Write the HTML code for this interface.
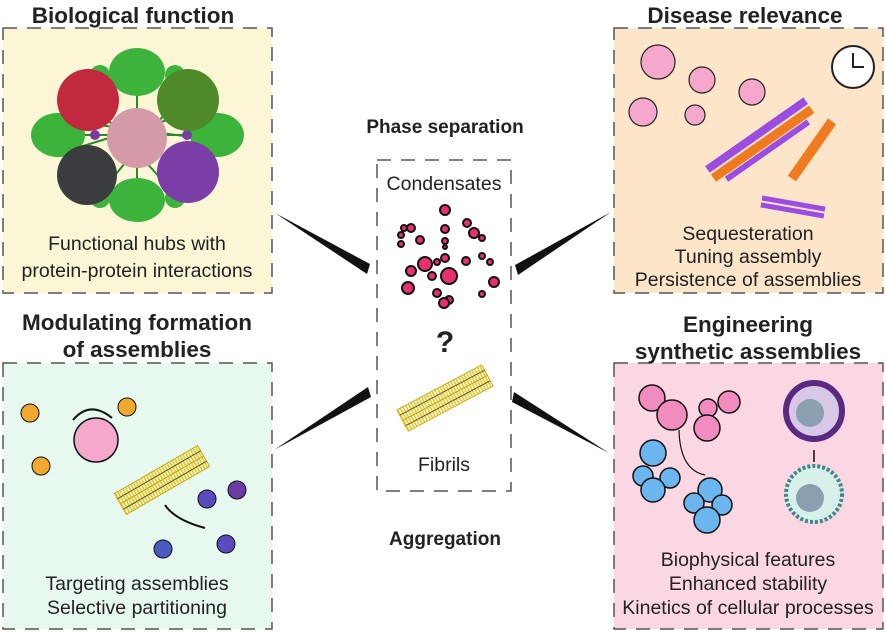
<!DOCTYPE html>
<html><head><meta charset="utf-8"><style>
body{margin:0;background:#fff;}
svg{display:block;font-family:"Liberation Sans",Arial,sans-serif;}
</style></head><body>
<svg width="886" height="635" viewBox="0 0 886 635" xmlns="http://www.w3.org/2000/svg">
<defs>
<g id="fib">
<rect x="-48" y="-6" width="96" height="12" fill="none" stroke="#c9a800" stroke-width="1"/>
<line x1="-48" y1="0" x2="48" y2="0" stroke="#e8c41a" stroke-width="11" stroke-dasharray="1.5 1.5"/>
<line x1="-48" y1="0" x2="48" y2="0" stroke="#6b5a00" stroke-width="1"/>
</g>
</defs>
<g stroke="#555" stroke-width="1.5" stroke-dasharray="14 10" >
<rect x="3" y="28" width="269" height="265" fill="#fbf7d6"/>
<rect x="614" y="28" width="269" height="265" fill="#fce5c9"/>
<rect x="3" y="363" width="269" height="266" fill="#e7f8ee"/>
<rect x="614" y="363" width="269" height="266" fill="#fbd7e3"/>
<rect x="377" y="160" width="134" height="331" fill="#fff"/>
</g>
<g font-weight="bold" fill="#222" font-size="22.5" text-anchor="middle">
<text x="133" y="23">Biological function</text>
<text x="745" y="23">Disease relevance</text>
<text x="137" y="330">Modulating formation</text>
<text x="137" y="357">of assemblies</text>
<text x="748" y="332">Engineering</text>
<text x="748" y="359">synthetic assemblies</text>
</g>
<g font-weight="bold" fill="#222" font-size="19" text-anchor="middle">
<text x="445" y="133">Phase separation</text>
<text x="445" y="545">Aggregation</text>
<text x="445" y="352" font-size="30">?</text>
</g>
<g fill="#222" font-size="19.5" text-anchor="middle">
<text x="137" y="250">Functional hubs with</text>
<text x="137" y="277">protein-protein interactions</text>
<text x="748" y="240">Sequesteration</text>
<text x="748" y="263">Tuning assembly</text>
<text x="748" y="286">Persistence of assemblies</text>
<text x="137" y="590">Targeting assemblies</text>
<text x="137" y="614">Selective partitioning</text>
<text x="748" y="566">Biophysical features</text>
<text x="748" y="590">Enhanced stability</text>
<text x="748" y="614">Kinetics of cellular processes</text>
<text x="444" y="190">Condensates</text>
<text x="444" y="471">Fibrils</text>
</g>
<!-- wedges -->
<g fill="#111">
<polygon points="275,213 370,264 367,274"/>
<polygon points="611,212 515,265 518,275"/>
<polygon points="274,450 368,387 371,397"/>
<polygon points="609,453 514,392 512,402"/>
</g>
<!-- condensates -->
<g fill="#e8306e" stroke="#111" stroke-width="2">
<circle cx="445" cy="210" r="5"/><circle cx="404" cy="228" r="3"/><circle cx="411" cy="228" r="4"/><circle cx="401" cy="235" r="3"/><circle cx="401" cy="244" r="3"/><circle cx="420" cy="240" r="4"/><circle cx="445" cy="229" r="4"/><circle cx="445" cy="241" r="3"/><circle cx="445" cy="247" r="2"/><circle cx="467" cy="223" r="4"/><circle cx="474" cy="233" r="5"/><circle cx="482" cy="238" r="3"/><circle cx="445" cy="258" r="4"/><circle cx="437" cy="262" r="3"/><circle cx="425" cy="264" r="7"/><circle cx="411" cy="271" r="5"/><circle cx="432" cy="276" r="4"/><circle cx="449" cy="276" r="8"/><circle cx="466" cy="261" r="4"/><circle cx="482" cy="256" r="3"/><circle cx="490" cy="262" r="3"/><circle cx="494" cy="282" r="5"/><circle cx="408" cy="288" r="6"/><circle cx="437" cy="293" r="4"/><circle cx="449" cy="300" r="4"/><circle cx="444" cy="303" r="5"/><circle cx="482" cy="294" r="3"/>
</g>
<!-- center fibrils -->
<g transform="translate(445,398) rotate(-28)"><use href="#fib" y="-6"/><use href="#fib" y="6"/></g>
<!-- top-left hub -->
<g stroke="#2a8a2a" stroke-width="2" fill="none">
<path d="M60,120 L215,140 M70,150 L200,110 M90,100 L180,200 M180,95 L95,200 M137,70 L137,205 M50,135 L225,135"/>
</g>
<g fill="#3cb43c">
<ellipse cx="137" cy="72" rx="28" ry="24"/><ellipse cx="137" cy="200" rx="28" ry="22"/>
<ellipse cx="58" cy="135" rx="27" ry="22"/><ellipse cx="217" cy="135" rx="27" ry="22"/>
<circle cx="100" cy="75" r="10"/><circle cx="175" cy="75" r="10"/><circle cx="100" cy="198" r="10"/><circle cx="175" cy="198" r="10"/>
</g>
<circle cx="95" cy="135" r="5" fill="#7a3aa6"/><circle cx="187" cy="135" r="5" fill="#7a3aa6"/>
<circle cx="88" cy="100" r="31" fill="#c2283e"/><circle cx="188" cy="100" r="31" fill="#4f8a2a"/>
<circle cx="87" cy="175" r="30" fill="#3a3c40"/><circle cx="188" cy="172" r="31" fill="#7a3ea6"/>
<circle cx="137" cy="138" r="30" fill="#d49aa8"/>
<!-- top-right -->
<g fill="#f6a8cc" stroke="#222" stroke-width="1.2">
<circle cx="658" cy="62" r="17"/><circle cx="702" cy="80" r="13"/><circle cx="643" cy="112" r="14"/><circle cx="695" cy="115" r="10"/><circle cx="752" cy="92" r="13"/>
</g>
<circle cx="853" cy="67" r="21" fill="#fff" stroke="#222" stroke-width="2"/>
<path d="M853,53 V67 H864" stroke="#222" stroke-width="2" fill="none"/>
<g transform="translate(760,140) rotate(-35)"><rect x="-60" y="-10" width="120" height="8" fill="#9a4de0"/><rect x="-60" y="0" width="120" height="9" fill="#f07a20"/><rect x="-50" y="10" width="100" height="6" fill="#9a4de0"/></g>
<g transform="translate(812,150) rotate(-55)"><rect x="-35" y="-5" width="70" height="10" fill="#f07a20"/></g>
<g transform="translate(793,207) rotate(10)"><rect x="-32" y="-6" width="64" height="5" fill="#9a4de0"/><rect x="-32" y="1" width="64" height="5" fill="#9a4de0"/></g>
<!-- bottom-left -->
<g stroke="#111" stroke-width="1">
<circle cx="30" cy="413" r="9" fill="#f0a830"/><circle cx="127" cy="407" r="9" fill="#f0a830"/><circle cx="41" cy="466" r="9" fill="#f0a830"/>
<circle cx="237" cy="490" r="9" fill="#6a3aa6"/><circle cx="207" cy="499" r="9" fill="#5a4ac0"/><circle cx="163" cy="549" r="9" fill="#4a5ac0"/><circle cx="226" cy="544" r="9" fill="#5a4ac0"/>
<circle cx="96" cy="440" r="22" fill="#f6a8cc" stroke-width="1.5"/>
</g>
<path d="M73,420 Q90,400 112,418" stroke="#111" stroke-width="2" fill="none"/>
<path d="M205,528 Q175,520 165,505" stroke="#111" stroke-width="2" fill="none"/>
<g transform="translate(162,480) rotate(-30)"><use href="#fib" y="-6"/><use href="#fib" y="6"/></g>
<!-- bottom-right -->
<g fill="#f28cbf" stroke="#111" stroke-width="1.5">
<circle cx="652" cy="398" r="13"/><circle cx="672" cy="415" r="15"/><circle cx="708" cy="408" r="9"/><circle cx="707" cy="428" r="13"/><circle cx="729" cy="402" r="11"/>
</g>
<path d="M679,430 Q680,470 705,475" stroke="#111" fill="none" stroke-width="1.2"/>
<g fill="#6cb6f0" stroke="#111" stroke-width="1.5">
<circle cx="653" cy="453" r="13"/><circle cx="643" cy="476" r="10"/><circle cx="670" cy="478" r="10"/><circle cx="653" cy="490" r="12"/>
<circle cx="710" cy="490" r="12"/><circle cx="694" cy="503" r="10"/><circle cx="722" cy="505" r="10"/><circle cx="707" cy="520" r="13"/>
</g>
<circle cx="814" cy="411" r="28" fill="#d8c8e8" stroke="#5a2a80" stroke-width="6"/><circle cx="810" cy="413" r="14" fill="#8aa0b0"/>
<path d="M814,450 V462" stroke="#111" stroke-width="1.5"/>
<circle cx="814" cy="494" r="28" fill="#d8f0ea" stroke="#3a8a8a" stroke-width="4" stroke-dasharray="3 2"/><circle cx="810" cy="498" r="14" fill="#8aa0b0"/>
</svg>
</body></html>
